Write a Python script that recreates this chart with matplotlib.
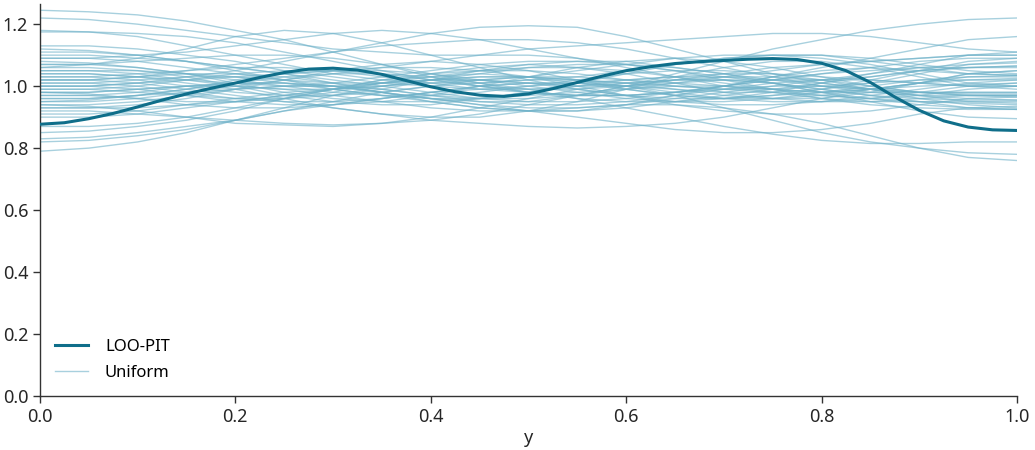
import numpy as np
from matplotlib import pyplot as plt

plt.rcParams["font.family"] = ["Noto Sans", "DejaVu Sans"]

# LOO-PIT density at x = 0, 0.025, ..., 1
x_loo = np.linspace(0, 1, 41)
loo_pit = [
    0.877, 0.882, 0.895, 0.912, 0.933, 0.955, 0.975, 0.993, 1.010, 1.028,
    1.044, 1.055, 1.058, 1.052, 1.038, 1.018, 0.998, 0.982, 0.971, 0.967,
    0.975, 0.992, 1.012, 1.032, 1.050, 1.063, 1.073, 1.079, 1.083, 1.087,
    1.089, 1.086, 1.074, 1.050, 1.012, 0.965, 0.922, 0.888, 0.868, 0.859,
    0.857,
]

# Uniform reference densities at x = 0, 0.05, ..., 1
x_unif = np.linspace(0, 1, 21)
uniform_curves = [
    [1.245, 1.24, 1.23, 1.21, 1.18, 1.15, 1.11, 1.07, 1.03, 1.00, 0.98, 0.97, 0.97, 0.98, 1.00, 1.02, 1.04, 1.05, 1.06, 1.06, 1.06],
    [1.22, 1.215, 1.20, 1.18, 1.16, 1.14, 1.12, 1.11, 1.10, 1.10, 1.10, 1.09, 1.07, 1.05, 1.03, 1.02, 1.02, 1.03, 1.05, 1.06, 1.065],
    [1.175, 1.175, 1.17, 1.16, 1.14, 1.11, 1.08, 1.05, 1.02, 1.00, 0.99, 0.99, 1.00, 1.02, 1.04, 1.06, 1.07, 1.08, 1.09, 1.10, 1.10],
    [1.18, 1.175, 1.16, 1.13, 1.10, 1.07, 1.04, 1.02, 1.01, 1.01, 1.02, 1.03, 1.05, 1.07, 1.09, 1.10, 1.10, 1.09, 1.07, 1.05, 1.04],
    [0.79, 0.80, 0.82, 0.85, 0.89, 0.93, 0.97, 1.00, 1.02, 1.03, 1.03, 1.02, 1.01, 1.00, 0.99, 0.98, 0.97, 0.96, 0.95, 0.945, 0.94],
    [0.82, 0.825, 0.84, 0.86, 0.89, 0.92, 0.95, 0.98, 1.00, 1.02, 1.03, 1.03, 1.02, 1.01, 1.00, 0.99, 0.98, 0.98, 0.98, 0.98, 0.98],
    [0.83, 0.835, 0.85, 0.87, 0.89, 0.92, 0.94, 0.96, 0.98, 0.99, 1.00, 1.01, 1.02, 1.03, 1.04, 1.04, 1.03, 1.02, 1.01, 1.00, 1.00],
    [0.85, 0.855, 0.87, 0.89, 0.92, 0.96, 0.99, 1.02, 1.03, 1.04, 1.03, 1.01, 0.99, 0.97, 0.96, 0.96, 0.97, 0.99, 1.01, 1.03, 1.035],
    [1.12, 1.115, 1.10, 1.08, 1.06, 1.04, 1.02, 1.00, 0.98, 0.96, 0.95, 0.95, 0.96, 0.98, 1.00, 1.03, 1.06, 1.09, 1.12, 1.15, 1.16],
    [1.10, 1.10, 1.09, 1.08, 1.06, 1.04, 1.01, 0.98, 0.96, 0.94, 0.93, 0.93, 0.94, 0.96, 0.98, 1.00, 1.02, 1.04, 1.06, 1.07, 1.075],
    [1.09, 1.09, 1.10, 1.11, 1.13, 1.15, 1.17, 1.18, 1.17, 1.15, 1.12, 1.09, 1.06, 1.03, 1.00, 0.98, 0.96, 0.95, 0.95, 0.95, 0.95],
    [1.06, 1.07, 1.09, 1.12, 1.16, 1.18, 1.17, 1.14, 1.10, 1.06, 1.02, 0.99, 0.97, 0.96, 0.96, 0.97, 0.98, 0.99, 1.00, 1.005, 1.01],
    [1.00, 1.00, 1.01, 1.03, 1.05, 1.08, 1.11, 1.14, 1.17, 1.19, 1.195, 1.19, 1.16, 1.12, 1.08, 1.04, 1.01, 0.99, 0.98, 0.975, 0.975],
    [0.95, 0.95, 0.96, 0.98, 1.00, 1.02, 1.04, 1.06, 1.08, 1.10, 1.12, 1.13, 1.14, 1.15, 1.16, 1.17, 1.17, 1.16, 1.14, 1.12, 1.11],
    [0.97, 0.97, 0.98, 1.00, 1.01, 1.01, 1.00, 0.98, 0.96, 0.95, 0.95, 0.97, 1.00, 1.04, 1.08, 1.12, 1.15, 1.18, 1.20, 1.215, 1.22],
    [1.04, 1.04, 1.03, 1.01, 0.99, 0.96, 0.93, 0.91, 0.90, 0.90, 0.92, 0.95, 0.99, 1.03, 1.06, 1.08, 1.08, 1.06, 1.03, 1.00, 0.99],
    [0.92, 0.92, 0.91, 0.90, 0.89, 0.88, 0.875, 0.88, 0.89, 0.91, 0.94, 0.97, 1.00, 1.02, 1.03, 1.03, 1.02, 1.00, 0.98, 0.97, 0.965],
    [0.94, 0.935, 0.92, 0.90, 0.88, 0.875, 0.87, 0.88, 0.90, 0.93, 0.96, 0.99, 1.01, 1.02, 1.02, 1.01, 0.99, 0.97, 0.96, 0.955, 0.955],
    [1.02, 1.02, 1.01, 0.99, 0.97, 0.95, 0.93, 0.91, 0.89, 0.88, 0.87, 0.865, 0.87, 0.88, 0.90, 0.93, 0.96, 0.99, 1.01, 1.02, 1.025],
    [0.98, 0.98, 0.99, 1.00, 1.01, 1.01, 1.00, 0.98, 0.96, 0.94, 0.92, 0.90, 0.88, 0.86, 0.85, 0.85, 0.86, 0.88, 0.91, 0.93, 0.935],
    [1.01, 1.01, 1.00, 0.98, 0.96, 0.95, 0.95, 0.96, 0.98, 1.00, 1.01, 1.01, 1.00, 0.97, 0.93, 0.89, 0.85, 0.82, 0.80, 0.785, 0.78],
    [0.96, 0.96, 0.97, 0.99, 1.01, 1.03, 1.04, 1.04, 1.03, 1.01, 0.99, 0.96, 0.93, 0.90, 0.87, 0.845, 0.825, 0.815, 0.815, 0.82, 0.82],
    [1.07, 1.07, 1.06, 1.04, 1.02, 1.00, 0.98, 0.97, 0.97, 0.98, 1.00, 1.02, 1.04, 1.05, 1.05, 1.04, 1.02, 0.99, 0.96, 0.94, 0.93],
    [1.03, 1.03, 1.04, 1.05, 1.06, 1.06, 1.05, 1.03, 1.01, 0.99, 0.98, 0.97, 0.97, 0.98, 0.99, 1.00, 1.00, 0.99, 0.97, 0.95, 0.945],
    [0.99, 0.99, 0.98, 0.97, 0.96, 0.96, 0.97, 0.99, 1.02, 1.05, 1.07, 1.08, 1.08, 1.06, 1.04, 1.01, 0.98, 0.96, 0.94, 0.93, 0.925],
    [0.93, 0.93, 0.94, 0.96, 0.99, 1.02, 1.05, 1.07, 1.08, 1.07, 1.05, 1.02, 0.99, 0.97, 0.96, 0.97, 0.99, 1.02, 1.05, 1.08, 1.09],
    [1.08, 1.075, 1.06, 1.04, 1.01, 0.98, 0.96, 0.95, 0.95, 0.96, 0.98, 1.01, 1.04, 1.07, 1.09, 1.10, 1.10, 1.08, 1.06, 1.04, 1.035],
    [1.05, 1.05, 1.05, 1.04, 1.03, 1.01, 0.99, 0.97, 0.95, 0.93, 0.92, 0.92, 0.93, 0.95, 0.97, 0.99, 1.01, 1.03, 1.05, 1.06, 1.065],
    [0.91, 0.91, 0.92, 0.94, 0.96, 0.98, 0.99, 1.00, 1.01, 1.02, 1.03, 1.05, 1.07, 1.09, 1.10, 1.10, 1.09, 1.07, 1.04, 1.01, 1.00],
    [1.00, 1.00, 0.99, 0.97, 0.95, 0.94, 0.94, 0.95, 0.97, 1.00, 1.03, 1.06, 1.08, 1.09, 1.08, 1.06, 1.03, 1.00, 0.98, 0.97, 0.97],
    [1.11, 1.11, 1.10, 1.08, 1.05, 1.02, 0.99, 0.97, 0.96, 0.96, 0.97, 0.98, 0.99, 1.00, 1.00, 0.99, 0.97, 0.96, 0.97, 0.99, 1.00],
    [0.96, 0.96, 0.97, 0.98, 0.99, 1.00, 1.01, 1.03, 1.05, 1.07, 1.08, 1.08, 1.07, 1.05, 1.02, 0.99, 0.96, 0.94, 0.93, 0.925, 0.925],
    [1.04, 1.04, 1.03, 1.02, 1.01, 1.00, 1.00, 1.01, 1.03, 1.05, 1.06, 1.06, 1.05, 1.03, 1.01, 0.99, 0.98, 0.99, 1.01, 1.04, 1.05],
    [0.98, 0.975, 0.96, 0.94, 0.93, 0.93, 0.94, 0.96, 0.98, 1.00, 1.01, 1.01, 1.00, 0.99, 0.98, 0.98, 0.99, 1.01, 1.04, 1.07, 1.08],
    [1.07, 1.07, 1.08, 1.09, 1.10, 1.10, 1.09, 1.07, 1.04, 1.01, 0.98, 0.96, 0.95, 0.95, 0.96, 0.98, 1.01, 1.04, 1.07, 1.10, 1.11],
    [0.94, 0.94, 0.95, 0.97, 0.99, 1.00, 1.00, 0.99, 0.97, 0.95, 0.94, 0.94, 0.95, 0.97, 0.99, 1.01, 1.02, 1.02, 1.01, 1.00, 1.00],
    [1.02, 1.02, 1.03, 1.04, 1.04, 1.03, 1.01, 0.99, 0.97, 0.96, 0.96, 0.97, 0.99, 1.01, 1.02, 1.02, 1.01, 0.99, 0.97, 0.96, 0.955],
    [0.90, 0.90, 0.91, 0.93, 0.95, 0.97, 0.99, 1.01, 1.02, 1.02, 1.01, 0.99, 0.97, 0.95, 0.94, 0.94, 0.95, 0.97, 0.99, 1.01, 1.02],
    [1.06, 1.06, 1.05, 1.03, 1.00, 0.97, 0.95, 0.94, 0.94, 0.96, 0.98, 1.00, 1.02, 1.03, 1.03, 1.01, 0.98, 0.95, 0.92, 0.90, 0.895],
    [0.99, 0.99, 1.00, 1.02, 1.04, 1.05, 1.05, 1.04, 1.02, 1.00, 0.98, 0.97, 0.97, 0.98, 1.00, 1.02, 1.04, 1.06, 1.08, 1.09, 1.09],
    [1.05, 1.05, 1.04, 1.02, 1.00, 0.99, 0.99, 1.00, 1.02, 1.04, 1.06, 1.07, 1.07, 1.06, 1.04, 1.02, 1.00, 0.99, 0.98, 0.98, 0.98],
    [0.97, 0.97, 0.96, 0.95, 0.95, 0.96, 0.98, 1.01, 1.04, 1.06, 1.07, 1.06, 1.04, 1.01, 0.98, 0.96, 0.95, 0.95, 0.96, 0.97, 0.97],
    [1.13, 1.13, 1.12, 1.10, 1.08, 1.05, 1.03, 1.01, 1.00, 0.99, 0.99, 1.00, 1.01, 1.02, 1.02, 1.01, 0.99, 0.97, 0.95, 0.93, 0.925],
    [0.87, 0.87, 0.88, 0.90, 0.93, 0.96, 0.99, 1.01, 1.02, 1.02, 1.01, 1.00, 1.00, 1.01, 1.03, 1.05, 1.07, 1.08, 1.09, 1.10, 1.10],
    [1.01, 1.01, 1.02, 1.03, 1.03, 1.02, 1.00, 0.98, 0.95, 0.93, 0.92, 0.92, 0.94, 0.97, 1.00, 1.03, 1.05, 1.06, 1.05, 1.04, 1.035],
    [0.95, 0.955, 0.97, 0.99, 1.02, 1.04, 1.05, 1.05, 1.04, 1.02, 1.00, 0.98, 0.96, 0.95, 0.95, 0.96, 0.98, 1.00, 1.02, 1.03, 1.03],
    [1.09, 1.09, 1.08, 1.06, 1.04, 1.02, 1.01, 1.01, 1.02, 1.03, 1.03, 1.02, 1.00, 0.98, 0.96, 0.95, 0.95, 0.96, 0.98, 1.00, 1.01],
    [0.93, 0.93, 0.93, 0.94, 0.95, 0.97, 0.99, 1.02, 1.04, 1.05, 1.05, 1.04, 1.02, 1.00, 0.99, 0.99, 1.00, 1.01, 1.02, 1.02, 1.02],
    [1.03, 1.03, 1.02, 1.00, 0.98, 0.97, 0.97, 0.98, 1.00, 1.01, 1.02, 1.02, 1.01, 0.99, 0.97, 0.96, 0.96, 0.98, 1.01, 1.04, 1.05],
    [1.00, 1.00, 1.01, 1.02, 1.03, 1.04, 1.05, 1.06, 1.06, 1.05, 1.03, 1.00, 0.97, 0.94, 0.92, 0.91, 0.91, 0.92, 0.94, 0.96, 0.965],
    [0.98, 0.98, 0.99, 1.00, 1.00, 0.99, 0.97, 0.95, 0.93, 0.92, 0.92, 0.93, 0.94, 0.94, 0.93, 0.91, 0.88, 0.84, 0.80, 0.77, 0.76],
    [1.02, 1.02, 1.03, 1.05, 1.07, 1.09, 1.11, 1.13, 1.14, 1.15, 1.15, 1.14, 1.12, 1.09, 1.06, 1.03, 1.00, 0.98, 0.97, 0.97, 0.97],
]

main_color = "#0f6e8a"
unif_color = "#6fb2c9"

fig = plt.figure(figsize=(10.35, 4.5), dpi=100)
ax = fig.add_axes([0.0386, 0.12, 0.9440, 0.871])

for i, curve in enumerate(uniform_curves):
    ax.plot(x_unif, curve, color=unif_color, alpha=0.6, lw=1,
            label="Uniform" if i == 0 else None, zorder=1)
ax.plot(x_loo, loo_pit, color=main_color, lw=2.2, label="LOO-PIT", zorder=3)

ax.set_xlim(0, 1)
ax.set_ylim(0, 1.265)
ax.set_xticks([0, 0.2, 0.4, 0.6, 0.8, 1.0])
ax.set_yticks([0, 0.2, 0.4, 0.6, 0.8, 1.0, 1.2])
ax.set_xlabel("y", fontsize=13, color="#262626", labelpad=2)

for side in ["top", "right"]:
    ax.spines[side].set_visible(False)
for side in ["left", "bottom"]:
    ax.spines[side].set_color("#333333")
    ax.spines[side].set_linewidth(1)
ax.tick_params(direction="out", length=5, width=1, color="#333333",
               labelsize=13, labelcolor="#262626")

handles, labels = ax.get_legend_handles_labels()
order = [labels.index("LOO-PIT"), labels.index("Uniform")]
ax.legend([handles[k] for k in order], [labels[k] for k in order],
          loc="lower left", frameon=False, fontsize=12, borderaxespad=0.5,
          labelspacing=0.6, handletextpad=1.0)

fig.savefig("out.png")
